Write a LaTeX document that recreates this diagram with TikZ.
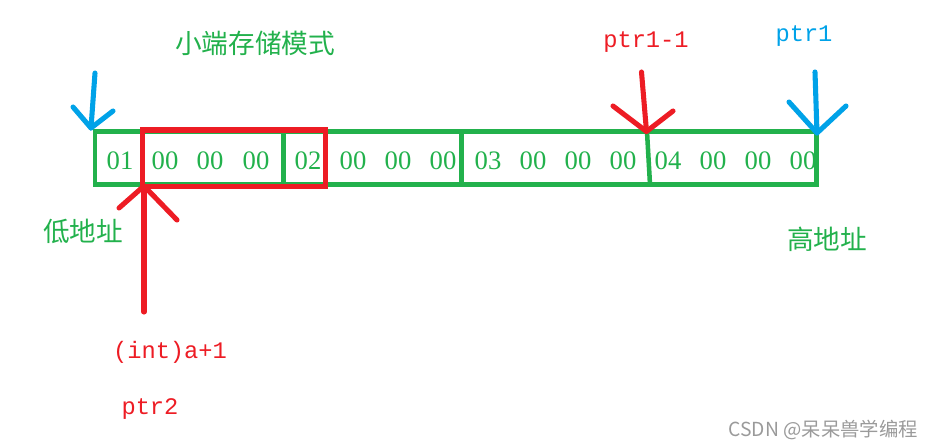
\documentclass[tikz,border=0pt]{standalone}
\usepackage{fontspec}
\setmainfont{Liberation Serif}
\newfontfamily\cjk{Noto Sans CJK SC}
\newfontfamily\monof{Liberation Mono}
\definecolor{pgreen}{HTML}{22B14C}
\definecolor{pred}{HTML}{ED1C24}
\definecolor{pblue}{HTML}{00A2E8}
\definecolor{pgray}{HTML}{9A9A9A}
\begin{document}
\begin{tikzpicture}[x=0.75pt,y=-0.75pt,
  greenline/.style={draw=pgreen,line width=3.4pt},
  redline/.style={draw=pred,line width=3.8pt,line cap=round,line join=round},
  blueline/.style={draw=pblue,line width=3.8pt,line cap=round,line join=round},
  byte/.style={text=pgreen,font=\fontsize{20}{24}\selectfont,inner sep=0pt,anchor=center},
  cjklabel/.style={font=\cjk\fontsize{20}{24}\selectfont,inner sep=0pt,anchor=center},
  codelabel/.style={font=\monof\fontsize{17.8}{21}\selectfont,inner sep=0pt,anchor=base}]
\useasboundingbox (0,0) rectangle (932,448);
% memory cells
\draw[greenline] (95,131.5) rectangle (816.5,184.5);
\draw[greenline] (283.5,131.5) -- (283.5,184.5);
\draw[greenline] (461.5,131.5) -- (461.5,184.5);
\draw[greenline] (647,131.5) -- (650,184.5);
% red box
\draw[draw=pred,line width=3.8pt] (142.5,130) rectangle (325.5,186.5);
% bytes
\foreach \t/\x [count=\i] in {01/120,00/165,00/210,00/256,02/308,00/353,00/398,00/443,03/488,00/533,00/578,00/623,04/668,00/713,00/758,00/803}
  \node[byte] (b\i) at (\x,161) {\t};
% labels
\node[cjklabel,text=pgreen] (title) at (255,43) {小端存储模式};
\node[cjklabel,text=pgreen] (low) at (83,231) {低地址};
\node[cjklabel,text=pgreen] (high) at (827,239) {高地址};
\node[codelabel,text=pred] (pm1) at (646,48) {ptr1-1};
\node[codelabel,text=pblue] (p1) at (804,42) {ptr1};
\node[codelabel,text=pred] (ia) at (170,359) {(int)a+1};
\node[codelabel,text=pred] (p2) at (150,415) {ptr2};
\node[font=\cjk\fontsize{14.5}{17}\selectfont,text=pgray,anchor=east,inner sep=0pt] (wm) at (918,430) {CSDN @呆呆兽学编程};
% arrow coordinates
\coordinate (lbTop) at (95,73);
\coordinate (lbTip) at (91,128);
\coordinate (lbL) at (73,107);
\coordinate (lbR) at (113,111);
\coordinate (rbTop) at (815,72);
\coordinate (rbTip) at (817,133);
\coordinate (rbL) at (789,102);
\coordinate (rbR) at (846,106);
\coordinate (rrTop) at (641.5,72);
\coordinate (rrTip) at (646.5,131.5);
\coordinate (rrL) at (613,106);
\coordinate (rrR) at (673,111);
\coordinate (brBot) at (144,312);
\coordinate (brTip) at (144,186);
\coordinate (brL) at (119,208);
\coordinate (brR) at (177,220);
% arrows
\draw[blueline] (lbTop) -- (lbTip);
\draw[blueline] (lbL) -- (lbTip) -- (lbR);
\draw[blueline] (rbTop) -- (rbTip);
\draw[blueline] (rbL) -- (rbTip) -- (rbR);
\draw[redline] (rrTop) -- (rrTip);
\draw[redline] (rrL) -- (rrTip) -- (rrR);
\draw[redline] (brBot) -- (brTip);
\draw[redline] (brL) -- (brTip) -- (brR);
\end{tikzpicture}
\end{document}
